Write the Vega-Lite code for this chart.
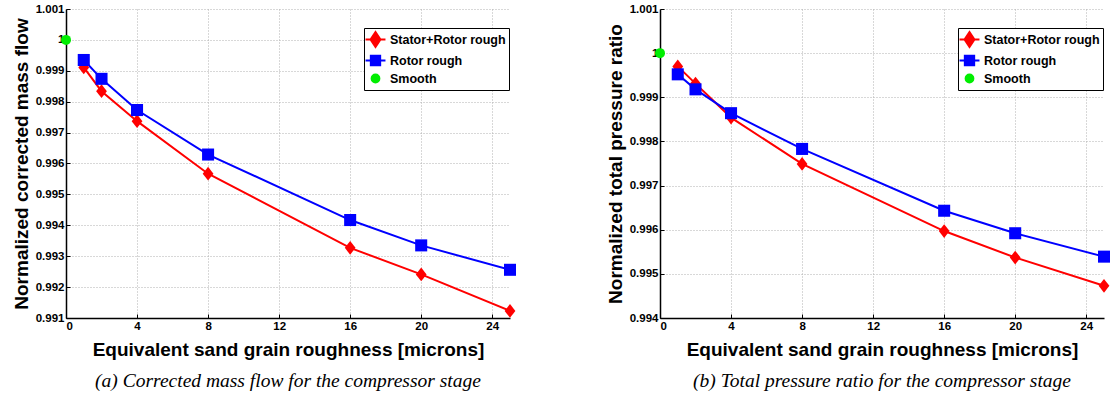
{
  "$schema": "https://vega.github.io/schema/vega-lite/v6.json",
  "padding": {"left": 12, "top": 3, "right": 5, "bottom": 5},
  "background": "white",
  "spacing": 89,
  "datasets": {
    "mass": [
      {"k": 0, "v": 1.0, "s": "Smooth"},
      {"k": 1, "v": 0.99911, "s": "Stator+Rotor rough"},
      {"k": 2, "v": 0.99834, "s": "Stator+Rotor rough"},
      {"k": 4, "v": 0.99737, "s": "Stator+Rotor rough"},
      {"k": 8, "v": 0.99567, "s": "Stator+Rotor rough"},
      {"k": 16, "v": 0.99327, "s": "Stator+Rotor rough"},
      {"k": 20, "v": 0.99241, "s": "Stator+Rotor rough"},
      {"k": 25, "v": 0.99123, "s": "Stator+Rotor rough"},
      {"k": 1, "v": 0.99935, "s": "Rotor rough"},
      {"k": 2, "v": 0.99874, "s": "Rotor rough"},
      {"k": 4, "v": 0.99773, "s": "Rotor rough"},
      {"k": 8, "v": 0.99629, "s": "Rotor rough"},
      {"k": 16, "v": 0.99417, "s": "Rotor rough"},
      {"k": 20, "v": 0.99335, "s": "Rotor rough"},
      {"k": 25, "v": 0.99256, "s": "Rotor rough"}
    ],
    "pr": [
      {"k": 0, "v": 1.0, "s": "Smooth"},
      {"k": 1, "v": 0.9997, "s": "Stator+Rotor rough"},
      {"k": 2, "v": 0.99931, "s": "Stator+Rotor rough"},
      {"k": 4, "v": 0.99854, "s": "Stator+Rotor rough"},
      {"k": 8, "v": 0.99749, "s": "Stator+Rotor rough"},
      {"k": 16, "v": 0.99597, "s": "Stator+Rotor rough"},
      {"k": 20, "v": 0.99537, "s": "Stator+Rotor rough"},
      {"k": 25, "v": 0.99473, "s": "Stator+Rotor rough"},
      {"k": 1, "v": 0.99952, "s": "Rotor rough"},
      {"k": 2, "v": 0.99918, "s": "Rotor rough"},
      {"k": 4, "v": 0.99864, "s": "Rotor rough"},
      {"k": 8, "v": 0.99783, "s": "Rotor rough"},
      {"k": 16, "v": 0.99643, "s": "Rotor rough"},
      {"k": 20, "v": 0.99592, "s": "Rotor rough"},
      {"k": 25, "v": 0.99539, "s": "Rotor rough"}
    ]
  },
  "config": {
    "view": {"stroke": null},
    "font": "Liberation Sans",
    "axis": {
      "labelFont": "Liberation Sans",
      "labelFontWeight": "bold",
      "labelFontSize": 11.5,
      "labelColor": "black",
      "titleFont": "Liberation Sans",
      "titleFontWeight": "bold",
      "titleFontSize": 19,
      "titleColor": "black",
      "domainColor": "black",
      "domainWidth": 1.5,
      "tickColor": "black",
      "tickSize": -4,
      "gridColor": "#b0b0b0",
      "gridDash": [1, 2],
      "gridWidth": 1
    },
    "title": {
      "orient": "bottom",
      "anchor": "middle",
      "font": "Liberation Serif",
      "fontStyle": "italic",
      "fontWeight": "normal",
      "fontSize": 19.5,
      "color": "black",
      "offset": 12
    },
    "legend": {
      "orient": "none",
      "legendX": 298,
      "legendY": 19,
      "title": null,
      "strokeColor": "black",
      "fillColor": "white",
      "padding": 3,
      "labelFont": "Liberation Sans",
      "labelFontWeight": "bold",
      "labelFontSize": 12.5,
      "labelColor": "black",
      "symbolSize": 200,
      "symbolStrokeWidth": 2,
      "symbolOpacity": 1,
      "rowPadding": 0,
      "labelOffset": 6
    }
  },
  "hconcat": [
    {
      "data": {"name": "mass"},
      "width": 444,
      "height": 309,
      "title": "(a)  Corrected mass flow for the compressor stage",
      "encoding": {
        "x": {"field": "k", "type": "quantitative", "scale": {"domain": [0, 25], "nice": false},
              "axis": {"values": [0, 4, 8, 12, 16, 20, 24], "title": "Equivalent sand grain roughness [microns]", "labelPadding": 6, "titlePadding": 9}},
        "y": {"field": "v", "type": "quantitative", "scale": {"domain": [0.991, 1.001], "nice": false, "zero": false},
              "axis": {"values": [0.991, 0.992, 0.993, 0.994, 0.995, 0.996, 0.997, 0.998, 0.999, 1, 1.001], "format": ".4~f", "title": "Normalized corrected mass flow", "labelPadding": 6, "titlePadding": 4}}
      },
      "layer": [
        {"mark": {"type": "point", "filled": true, "fillOpacity": 0, "strokeOpacity": 0},
         "encoding": {
           "fill": {"field": "s", "type": "nominal", "scale": {"domain": ["Stator+Rotor rough", "Rotor rough", "Smooth"], "range": ["#ff0000", "#0000ff", "#00ee00"]}, "legend": {"symbolSize": 200, "symbolFillOpacity": 1}},
           "stroke": {"field": "s", "type": "nominal", "scale": {"domain": ["Stator+Rotor rough", "Rotor rough", "Smooth"], "range": ["#ff0000", "#0000ff", "#00ee00"]}},
           "shape": {"field": "s", "type": "nominal", "scale": {"domain": ["Stator+Rotor rough", "Rotor rough", "Smooth"], "range": ["M-1.41,0H1.41M0,-1.04L0.7,0L0,1.04L-0.7,0Z", "M-1.41,0H1.41M-0.66,-0.66H0.66V0.66H-0.66Z", "M-0.55,0A0.55,0.55 0 1,0 0.55,0A0.55,0.55 0 1,0 -0.55,0Z"]}}
         }},
        {"mark": {"type": "line", "strokeWidth": 2},
         "encoding": {"color": {"field": "s", "type": "nominal", "scale": {"domain": ["Stator+Rotor rough", "Rotor rough", "Smooth"], "range": ["#ff0000", "#0000ff", "#00ee00"]}, "legend": null}}},
        {"mark": {"type": "point", "filled": true, "opacity": 1},
         "encoding": {
           "color": {"field": "s", "type": "nominal", "scale": {"domain": ["Stator+Rotor rough", "Rotor rough", "Smooth"], "range": ["#ff0000", "#0000ff", "#00ee00"]}, "legend": null},
           "shape": {"field": "s", "type": "nominal", "scale": {"domain": ["Stator+Rotor rough", "Rotor rough", "Smooth"], "range": ["M0,-1L0.78,0L0,1L-0.78,0Z", "square", "circle"]}, "legend": null},
           "size": {"field": "s", "type": "nominal", "scale": {"domain": ["Stator+Rotor rough", "Rotor rough", "Smooth"], "range": [190, 100, 64]}, "legend": null}
         }}
      ],
      "resolve": {"scale": {"shape": "independent", "fill": "independent", "stroke": "independent", "color": "independent", "size": "independent"}}
    },
    {
      "data": {"name": "pr"},
      "width": 444,
      "height": 309,
      "title": "(b)  Total pressure ratio for the compressor stage",
      "encoding": {
        "x": {"field": "k", "type": "quantitative", "scale": {"domain": [0, 25], "nice": false},
              "axis": {"values": [0, 4, 8, 12, 16, 20, 24], "title": "Equivalent sand grain roughness [microns]", "labelPadding": 6, "titlePadding": 9}},
        "y": {"field": "v", "type": "quantitative", "scale": {"domain": [0.994, 1.001], "nice": false, "zero": false},
              "axis": {"values": [0.994, 0.995, 0.996, 0.997, 0.998, 0.999, 1, 1.001], "format": ".4~f", "title": "Normalized total pressure ratio", "labelPadding": 6, "titlePadding": 4}}
      },
      "layer": [
        {"mark": {"type": "point", "filled": true, "fillOpacity": 0, "strokeOpacity": 0},
         "encoding": {
           "fill": {"field": "s", "type": "nominal", "scale": {"domain": ["Stator+Rotor rough", "Rotor rough", "Smooth"], "range": ["#ff0000", "#0000ff", "#00ee00"]}, "legend": {"symbolSize": 200, "symbolFillOpacity": 1}},
           "stroke": {"field": "s", "type": "nominal", "scale": {"domain": ["Stator+Rotor rough", "Rotor rough", "Smooth"], "range": ["#ff0000", "#0000ff", "#00ee00"]}},
           "shape": {"field": "s", "type": "nominal", "scale": {"domain": ["Stator+Rotor rough", "Rotor rough", "Smooth"], "range": ["M-1.41,0H1.41M0,-1.04L0.7,0L0,1.04L-0.7,0Z", "M-1.41,0H1.41M-0.66,-0.66H0.66V0.66H-0.66Z", "M-0.55,0A0.55,0.55 0 1,0 0.55,0A0.55,0.55 0 1,0 -0.55,0Z"]}}
         }},
        {"mark": {"type": "line", "strokeWidth": 2},
         "encoding": {"color": {"field": "s", "type": "nominal", "scale": {"domain": ["Stator+Rotor rough", "Rotor rough", "Smooth"], "range": ["#ff0000", "#0000ff", "#00ee00"]}, "legend": null}}},
        {"mark": {"type": "point", "filled": true, "opacity": 1},
         "encoding": {
           "color": {"field": "s", "type": "nominal", "scale": {"domain": ["Stator+Rotor rough", "Rotor rough", "Smooth"], "range": ["#ff0000", "#0000ff", "#00ee00"]}, "legend": null},
           "shape": {"field": "s", "type": "nominal", "scale": {"domain": ["Stator+Rotor rough", "Rotor rough", "Smooth"], "range": ["M0,-1L0.78,0L0,1L-0.78,0Z", "square", "circle"]}, "legend": null},
           "size": {"field": "s", "type": "nominal", "scale": {"domain": ["Stator+Rotor rough", "Rotor rough", "Smooth"], "range": [190, 100, 64]}, "legend": null}
         }}
      ],
      "resolve": {"scale": {"shape": "independent", "fill": "independent", "stroke": "independent", "color": "independent", "size": "independent"}}
    }
  ],
  "resolve": {"scale": {"color": "independent", "fill": "independent", "stroke": "independent", "shape": "independent", "size": "independent"}}
}
